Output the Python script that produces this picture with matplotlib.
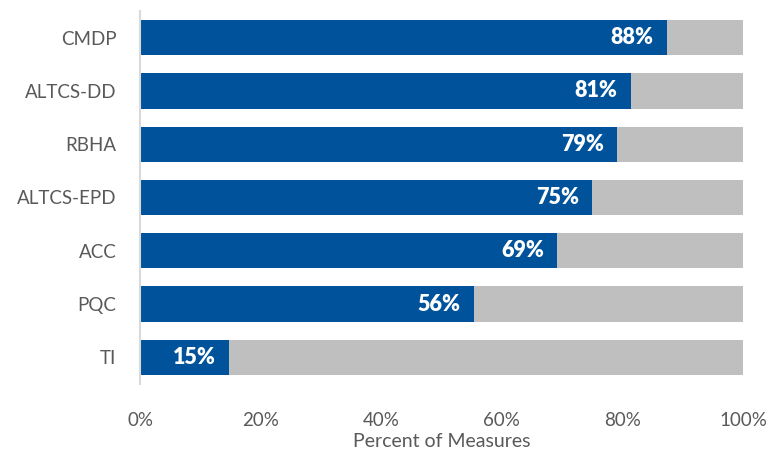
import matplotlib
matplotlib.use("Agg")
import matplotlib.pyplot as plt
from matplotlib.ticker import FuncFormatter

categories = ["CMDP", "ALTCS-DD", "RBHA", "ALTCS-EPD", "ACC", "PQC", "TI"]
values = [87.4, 81.4, 79.1, 75.0, 69.2, 55.4, 14.8]
value_labels = ["88%", "81%", "79%", "75%", "69%", "56%", "15%"]
ticks = [0, 20, 40, 60, 80, 100]

plt.rcParams['font.family'] = ['Lato', 'DejaVu Sans']

fig = plt.figure(figsize=(7.69, 4.53), dpi=100)
ax = fig.add_axes([140/769, 1 - 384/453, (743-140)/769, (384-11)/453])

blue = "#00539B"
gray = "#BFBFBF"
pos = list(range(len(categories)))[::-1]
rest = [100 - v for v in values]
ax.barh(pos, values, height=0.66, color=blue)
ax.barh(pos, rest, left=values, height=0.66, color=gray)

for p, v, lab in zip(pos, values, value_labels):
    ax.text(v - 2.2, p, lab, ha='right', va='center', color='white',
            fontsize=15.5, fontweight='heavy')

ax.set_xlim(0, 100)
ax.set_ylim(-0.5, len(categories) - 0.5)
ax.set_yticks(pos)
ax.set_yticklabels(categories)
ax.set_xticks(ticks)
ax.xaxis.set_major_formatter(FuncFormatter(lambda x, _: f"{int(x)}%"))
ax.tick_params(axis='both', length=0, labelsize=13.5, labelcolor='#595959')
ax.tick_params(axis='y', pad=17)
ax.tick_params(axis='x', pad=20)
for s in ['top', 'right', 'bottom']:
    ax.spines[s].set_visible(False)
ax.spines['left'].set_color('#D9D9D9')
ax.spines['left'].set_linewidth(1.5)
ax.set_xlabel("Percent of Measures", fontsize=14, color='#595959', labelpad=3)

fig.savefig("out.png", dpi=100)
